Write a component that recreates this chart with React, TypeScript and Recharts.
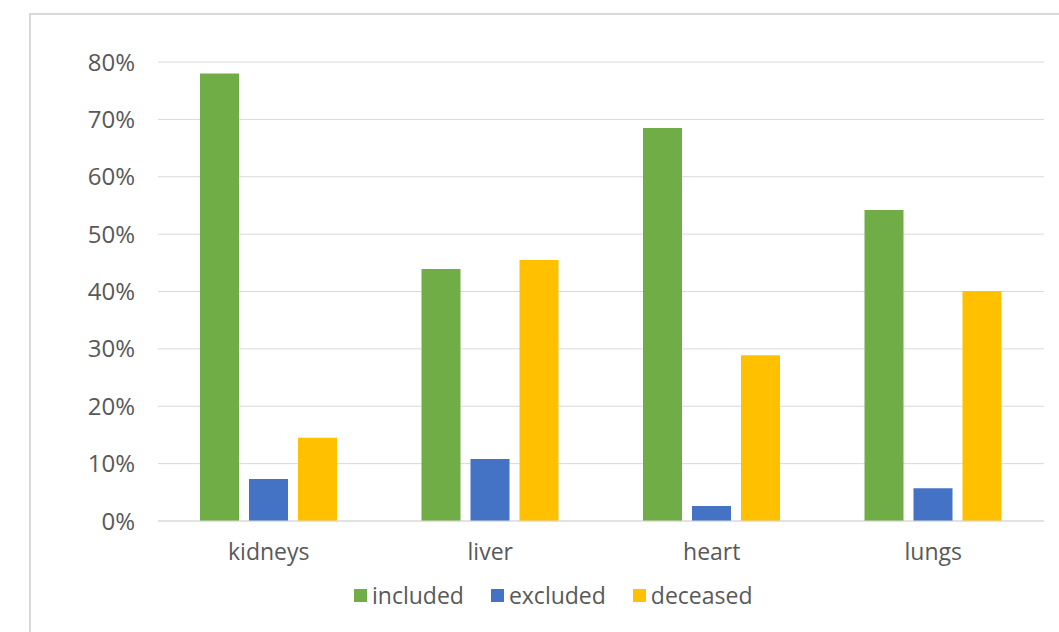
import React from 'react';
import { BarChart, Bar, XAxis, YAxis, CartesianGrid } from 'recharts';

// organ categories and share of patients per outcome
const organs = ['kidneys', 'liver', 'heart', 'lungs'];
const included = [0.78, 0.439, 0.685, 0.542];
const excluded = [0.073, 0.108, 0.026, 0.057];
const deceased = [0.145, 0.455, 0.289, 0.401];
const yTicks = [0, 0.1, 0.2, 0.3, 0.4, 0.5, 0.6, 0.7, 0.8];

const series = [
  { key: 'included', color: '#70AD47' },
  { key: 'excluded', color: '#4472C4' },
  { key: 'deceased', color: '#FFC000' },
];

const data = organs.map((name, i) => ({
  name,
  included: included[i],
  excluded: excluded[i],
  deceased: deceased[i],
}));

const font = '"Open Sans", sans-serif';
const textColor = '#595959';

const App = () => {
  return (
    <div style={{ position: 'absolute', left: 0, top: 0, width: 1059, height: 632, background: '#fff', overflow: 'hidden', fontFamily: font }}>
      <div style={{ position: 'absolute', left: 29, top: 13, width: 1060, height: 640, border: '2px solid #d9d9d9', boxSizing: 'border-box' }} />
      <div style={{ position: 'absolute', left: 0, top: 0 }}>
        <BarChart
          width={1059}
          height={632}
          data={data}
          margin={{ top: 62, right: 15, bottom: 71, left: 0 }}
          barSize={39}
          barGap={10}
        >
          <CartesianGrid vertical={false} stroke="#d9d9d9" strokeWidth={1} />
          <XAxis
            dataKey="name"
            axisLine={{ stroke: '#d9d9d9' }}
            tickLine={false}
            tickSize={0}
            tickMargin={23}
            height={40}
            tick={{ fill: textColor, fontSize: 23, fontFamily: font }}
          />
          <YAxis
            domain={[0, 0.8]}
            ticks={yTicks}
            width={158}
            axisLine={false}
            tickLine={false}
            tickSize={0}
            tickMargin={23}
            tickFormatter={(v: number) => `${Math.round(v * 100)}%`}
            tick={{ fill: textColor, fontSize: 24, fontFamily: font }}
          />
          {series.map(s => (
            <Bar key={s.key} dataKey={s.key} fill={s.color} isAnimationActive={false} />
          ))}
        </BarChart>
      </div>
      <div style={{ position: 'absolute', left: 354, top: 579, display: 'flex', alignItems: 'center', fontSize: 23, lineHeight: '32px', color: textColor }}>
        {series.map((s, i) => (
          <div key={s.key} style={{ display: 'flex', alignItems: 'center', marginLeft: i === 0 ? 0 : 27 }}>
            <span style={{ display: 'inline-block', width: 13, height: 13, background: s.color, marginRight: 5 }} />
            <span>{s.key}</span>
          </div>
        ))}
      </div>
    </div>
  );
};

export default App;
